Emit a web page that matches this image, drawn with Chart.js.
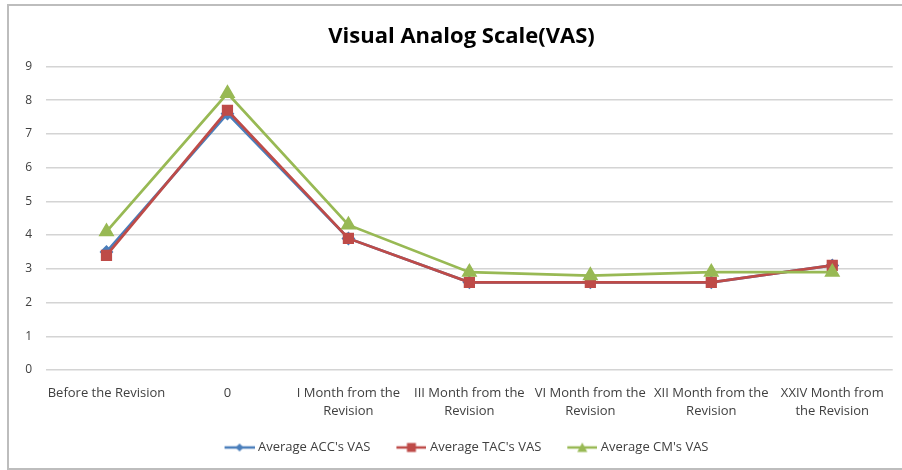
<!DOCTYPE html>
<html>
<head>
<meta charset="utf-8">
<script src="https://cdn.jsdelivr.net/npm/chart.js@4.4.1/dist/chart.umd.min.js"></script>
<style>
  html, body { margin: 0; padding: 0; background: #fff; }
  #wrap { position: relative; width: 902px; height: 470px; overflow: hidden; }
  #frame {
    position: absolute; left: 7px; top: 4px; width: 900px; height: 466px;
    border: 2px solid #bdbdbd; box-sizing: border-box;
  }
  canvas { position: absolute; left: 0; top: 0; }
</style>
</head>
<body>
<div id="wrap">
  <div id="frame"></div>
  <canvas id="vasChart" width="902" height="470"></canvas>
</div>
<script>
// --- data ---
const categories = [
  'Before the Revision',
  '0',
  ['I Month from the', 'Revision'],
  ['III Month from the', 'Revision'],
  ['VI Month from the', 'Revision'],
  ['XII Month from the', 'Revision'],
  ['XXIV Month from', 'the Revision']
];
const accVas = [3.5, 7.6, 3.9, 2.6, 2.6, 2.6, 3.1];
const tacVas = [3.4, 7.7, 3.9, 2.6, 2.6, 2.6, 3.1];
const cmVas  = [4.1, 8.2, 4.3, 2.9, 2.8, 2.9, 2.9];
const yTicks = [0, 1, 2, 3, 4, 5, 6, 7, 8, 9];

const BLUE = '#4a7ebb';
const RED = '#be4b48';
const GREEN = '#98b954';
const FONT = '"Open Sans", "Liberation Sans", sans-serif';

// legend symbol: short line with the marker on it, like Excel
// (transparent margin on the left gives the gap between legend items)
function legendIcon(color, shape) {
  const c = document.createElement('canvas');
  c.width = 43; c.height = 12;
  const g = c.getContext('2d');
  const x0 = 13, mid = x0 + 15;
  g.strokeStyle = color; g.fillStyle = color; g.lineWidth = 2.5;
  g.beginPath(); g.moveTo(x0, 6); g.lineTo(43, 6); g.stroke();
  g.beginPath();
  if (shape === 'diamond') {
    g.moveTo(mid, 2); g.lineTo(mid + 4, 6); g.lineTo(mid, 10); g.lineTo(mid - 4, 6);
  } else if (shape === 'square') {
    g.rect(mid - 4.5, 1.5, 9, 9);
  } else {
    g.moveTo(mid, 1); g.lineTo(mid + 5, 10.5); g.lineTo(mid - 5, 10.5);
  }
  g.closePath(); g.fill();
  return c;
}

const icons = [legendIcon(BLUE, 'diamond'), legendIcon(RED, 'square'), legendIcon(GREEN, 'triangle')];

const ctx = document.getElementById('vasChart').getContext('2d');
new Chart(ctx, {
  type: 'line',
  data: {
    labels: categories,
    datasets: [
      {
        label: "Average ACC's VAS", data: accVas, order: 3,
        borderColor: BLUE, backgroundColor: BLUE, borderWidth: 2.75,
        pointStyle: 'rectRot', pointRadius: 5, tension: 0
      },
      {
        label: "Average TAC's VAS", data: tacVas, order: 2,
        borderColor: RED, backgroundColor: RED, borderWidth: 2.75,
        pointStyle: 'rect', pointRadius: 6, tension: 0
      },
      {
        label: "Average CM's VAS", data: cmVas, order: 1,
        borderColor: GREEN, backgroundColor: GREEN, borderWidth: 2.75,
        pointStyle: 'triangle', pointRadius: 6.5, tension: 0
      }
    ]
  },
  options: {
    responsive: false,
    animation: false,
    layout: { padding: { left: 24, right: 3, top: 10, bottom: 6 } },
    plugins: {
      title: {
        display: true,
        text: 'Visual Analog Scale(VAS)',
        color: '#000',
        font: { family: FONT, size: 22, weight: 'bold', lineHeight: 1.2 },
        padding: { top: 14, bottom: 16 }
      },
      legend: {
        position: 'bottom',
        labels: {
          usePointStyle: true,
          pointStyleWidth: 37,
          color: '#404040',
          font: { family: FONT, size: 13 },
          padding: 16,
          generateLabels: (chart) => chart.data.datasets.map((ds, i) => ({
            text: ds.label,
            pointStyle: icons[i],
            fontColor: '#404040',
            datasetIndex: i,
            hidden: false
          }))
        }
      },
      tooltip: { enabled: false }
    },
    scales: {
      x: {
        offset: true,
        grid: { display: false },
        border: { display: false },
        afterFit: (scale) => { scale.height = 55; },
        ticks: {
          color: '#404040',
          font: { family: FONT, size: 13, lineHeight: 1.4 },
          maxRotation: 0,
          autoSkip: false,
          padding: 6
        }
      },
      y: {
        min: 0,
        max: 9,
        afterBuildTicks: (scale) => { scale.ticks = yTicks.map(v => ({ value: v })); },
        afterFit: (scale) => { scale.width = 22; },
        grid: { color: '#d4d4d4', lineWidth: 1.5, drawTicks: false },
        border: { display: false },
        ticks: {
          color: '#404040',
          font: { family: FONT, size: 12 },
          padding: 14
        }
      }
    }
  }
});
</script>
</body>
</html>
